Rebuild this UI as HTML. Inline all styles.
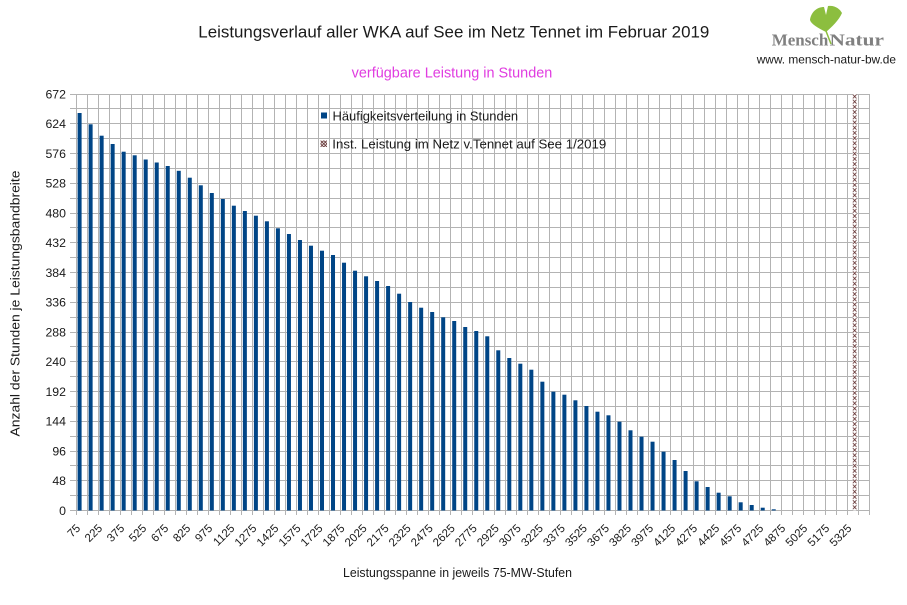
<!DOCTYPE html>
<html><head><meta charset="utf-8"><style>
html,body{margin:0;padding:0;background:#fff;}
svg{display:block;}
text{font-family:"Liberation Sans",sans-serif;}
</style></head><body>
<svg width="907" height="605" viewBox="0 0 907 605" xmlns="http://www.w3.org/2000/svg">
<defs>
<pattern id="hx" x="852.76" y="94" width="3.8" height="5.2" patternUnits="userSpaceOnUse">
<rect width="3.8" height="5.2" fill="#fff"/>
<path d="M0 0.5L3.8 4.5M3.8 0.5L0 4.5" stroke="#5a2626" stroke-width="0.8" fill="none"/>
</pattern>
<pattern id="hx2" x="320.5" y="140.5" width="3.25" height="3.25" patternUnits="userSpaceOnUse">
<rect width="3.25" height="3.25" fill="#fff"/>
<path d="M0 0L3.25 3.25M3.25 0L0 3.25" stroke="#5a2626" stroke-width="0.8" fill="none"/>
</pattern>
</defs>
<rect width="907" height="605" fill="#fff"/>

<!-- title -->
<text x="198.3" y="37.7" font-size="16.8" fill="#1a1a1a" textLength="511" lengthAdjust="spacingAndGlyphs">Leistungsverlauf aller WKA auf See im Netz Tennet im Februar 2019</text>
<text x="351.7" y="77.3" font-size="14.4" fill="#e03ce0" textLength="200.6" lengthAdjust="spacingAndGlyphs">verfügbare Leistung in Stunden</text>

<!-- logo -->
<path d="M826 32 C818 28 811 24 810 20 C811 12 817 7 824 7 L826 15 L828 6 C835 5 840 9 842 13 C839 20 832 27 826 32 Z" fill="#8cbe3f"/>
<path d="M826 31 L831 44" stroke="#8cbe3f" stroke-width="1.5" fill="none"/>
<text x="771.7" y="45.5" font-weight="bold" font-size="17" fill="#808080" textLength="56.6" lengthAdjust="spacingAndGlyphs" style="font-family:'Liberation Serif',serif">Mensch</text>
<text x="829.5" y="45.5" font-weight="bold" font-size="17" fill="#808080" textLength="54.5" lengthAdjust="spacingAndGlyphs" style="font-family:'Liberation Serif',serif">Natur</text>
<text x="756.7" y="63.3" font-size="12" fill="#1a1a1a" textLength="139.3" lengthAdjust="spacingAndGlyphs">www. mensch-natur-bw.de</text>

<!-- grid -->
<path fill="none" stroke="#b3b3b3" stroke-width="1" d="
M76.5 94V515 M87.5 94V515 M98.5 94V515 M109.5 94V515 M120.5 94V515 M131.5 94V515 M142.5 94V515 M153.5 94V515 M164.5 94V515 M175.5 94V515
M186.5 94V515 M197.5 94V515 M208.5 94V515 M219.5 94V515 M230.5 94V515 M241.5 94V515 M252.5 94V515 M263.5 94V515 M274.5 94V515 M285.5 94V515
M296.5 94V515 M307.5 94V515 M318.5 94V515 M329.5 94V515 M340.5 94V515 M351.5 94V515 M362.5 94V515 M373.5 94V515 M384.5 94V515 M395.5 94V515
M406.5 94V515 M417.5 94V515 M428.5 94V515 M439.5 94V515 M450.5 94V515 M461.5 94V515 M472.5 94V515 M483.5 94V515 M494.5 94V515 M505.5 94V515
M516.5 94V515 M527.5 94V515 M538.5 94V515 M549.5 94V515 M560.5 94V515 M571.5 94V515 M582.5 94V515 M593.5 94V515 M604.5 94V515 M615.5 94V515
M626.5 94V515 M637.5 94V515 M648.5 94V515 M659.5 94V515 M670.5 94V515 M681.5 94V515 M693.5 94V515 M704.5 94V515 M715.5 94V515 M726.5 94V515
M737.5 94V515 M748.5 94V515 M759.5 94V515 M770.5 94V515 M781.5 94V515 M792.5 94V515 M803.5 94V515 M814.5 94V515 M825.5 94V515 M836.5 94V515
M847.5 94V515 M858.5 94V515 M869.5 94V515
M70 510.5H869.5 M70 495.5H869.5 M70 480.5H869.5 M70 465.5H869.5 M70 451.5H869.5 M70 436.5H869.5 M70 421.5H869.5 M70 406.5H869.5
M70 391.5H869.5 M70 376.5H869.5 M70 361.5H869.5 M70 346.5H869.5 M70 332.5H869.5 M70 317.5H869.5 M70 302.5H869.5 M70 287.5H869.5
M70 272.5H869.5 M70 257.5H869.5 M70 242.5H869.5 M70 227.5H869.5 M70 213.5H869.5 M70 198.5H869.5 M70 183.5H869.5 M70 168.5H869.5
M70 153.5H869.5 M70 138.5H869.5 M70 123.5H869.5 M70 108.5H869.5 M70 94.5H869.5"/>

<!-- bars -->
<g fill="#004586">
<rect x="77.6" y="113" width="4" height="397.5"/>
<rect x="88.62" y="124.3" width="4" height="386.2"/>
<rect x="99.64" y="135.7" width="4" height="374.8"/>
<rect x="110.65" y="144" width="4" height="366.5"/>
<rect x="121.67" y="151.7" width="4" height="358.8"/>
<rect x="132.69" y="155.3" width="4" height="355.2"/>
<rect x="143.71" y="159.5" width="4" height="351"/>
<rect x="154.73" y="162.5" width="4" height="348"/>
<rect x="165.74" y="166" width="4" height="344.5"/>
<rect x="176.76" y="170.8" width="4" height="339.7"/>
<rect x="187.78" y="177.7" width="4" height="332.8"/>
<rect x="198.8" y="185.3" width="4" height="325.2"/>
<rect x="209.82" y="193" width="4" height="317.5"/>
<rect x="220.83" y="199" width="4" height="311.5"/>
<rect x="231.85" y="205.7" width="4" height="304.8"/>
<rect x="242.87" y="211" width="4" height="299.5"/>
<rect x="253.89" y="215.7" width="4" height="294.8"/>
<rect x="264.91" y="221.3" width="4" height="289.2"/>
<rect x="275.92" y="228.3" width="4" height="282.2"/>
<rect x="286.94" y="234" width="4" height="276.5"/>
<rect x="297.96" y="240" width="4" height="270.5"/>
<rect x="308.98" y="245.7" width="4" height="264.8"/>
<rect x="320.0" y="250.7" width="4" height="259.8"/>
<rect x="331.01" y="255" width="4" height="255.5"/>
<rect x="342.03" y="262.7" width="4" height="247.8"/>
<rect x="353.05" y="270.7" width="4" height="239.8"/>
<rect x="364.07" y="276.3" width="4" height="234.2"/>
<rect x="375.09" y="281" width="4" height="229.5"/>
<rect x="386.1" y="286" width="4" height="224.5"/>
<rect x="397.12" y="293.7" width="4" height="216.8"/>
<rect x="408.14" y="302" width="4" height="208.5"/>
<rect x="419.16" y="307.7" width="4" height="202.8"/>
<rect x="430.18" y="312" width="4" height="198.5"/>
<rect x="441.19" y="317.3" width="4" height="193.2"/>
<rect x="452.21" y="321" width="4" height="189.5"/>
<rect x="463.23" y="327" width="4" height="183.5"/>
<rect x="474.25" y="331" width="4" height="179.5"/>
<rect x="485.27" y="336.3" width="4" height="174.2"/>
<rect x="496.28" y="350.3" width="4" height="160.2"/>
<rect x="507.3" y="358" width="4" height="152.5"/>
<rect x="518.32" y="363.7" width="4" height="146.8"/>
<rect x="529.34" y="369.7" width="4" height="140.8"/>
<rect x="540.36" y="381.7" width="4" height="128.8"/>
<rect x="551.37" y="391.7" width="4" height="118.8"/>
<rect x="562.39" y="394.7" width="4" height="115.8"/>
<rect x="573.41" y="400.3" width="4" height="110.2"/>
<rect x="584.43" y="406" width="4" height="104.5"/>
<rect x="595.45" y="411.7" width="4" height="98.8"/>
<rect x="606.46" y="415.3" width="4" height="95.2"/>
<rect x="617.48" y="421.7" width="4" height="88.8"/>
<rect x="628.5" y="430.3" width="4" height="80.2"/>
<rect x="639.52" y="436.7" width="4" height="73.8"/>
<rect x="650.54" y="441.7" width="4" height="68.8"/>
<rect x="661.55" y="451.7" width="4" height="58.8"/>
<rect x="672.57" y="460" width="4" height="50.5"/>
<rect x="683.59" y="471" width="4" height="39.5"/>
<rect x="694.61" y="481.3" width="4" height="29.2"/>
<rect x="705.63" y="487" width="4" height="23.5"/>
<rect x="716.64" y="492.7" width="4" height="17.8"/>
<rect x="727.66" y="496.3" width="4" height="14.2"/>
<rect x="738.68" y="502.3" width="4" height="8.2"/>
<rect x="749.7" y="505" width="4" height="5.5"/>
<rect x="760.72" y="507.7" width="4" height="2.8"/>
<rect x="771.73" y="509.3" width="4" height="1.2"/>
</g>
<rect x="852.76" y="94" width="3.8" height="416.5" fill="url(#hx)"/>

<!-- legend -->
<rect x="321" y="112.5" width="6" height="6" fill="#004586"/>
<text x="332.5" y="120.3" font-size="13" fill="#1a1a1a" textLength="185.6" lengthAdjust="spacingAndGlyphs">Häufigkeitsverteilung in Stunden</text>
<rect x="320.5" y="140.5" width="6.5" height="6.5" fill="url(#hx2)"/>
<text x="332.3" y="148.5" font-size="13" fill="#1a1a1a" textLength="274" lengthAdjust="spacingAndGlyphs">Inst. Leistung im Netz v.Tennet auf See 1/2019</text>

<!-- y tick labels -->
<g font-size="12.3" fill="#1a1a1a" text-anchor="end">
<text x="66" y="514.8">0</text>
<text x="66" y="485.1">48</text>
<text x="66" y="455.3">96</text>
<text x="66" y="425.6">144</text>
<text x="66" y="395.8">192</text>
<text x="66" y="366.1">240</text>
<text x="66" y="336.3">288</text>
<text x="66" y="306.6">336</text>
<text x="66" y="276.8">384</text>
<text x="66" y="247.1">432</text>
<text x="66" y="217.3">480</text>
<text x="66" y="187.6">528</text>
<text x="66" y="157.8">576</text>
<text x="66" y="128.1">624</text>
<text x="66" y="98.3">672</text>
</g>

<!-- x tick labels -->
<g font-size="11.5" fill="#1a1a1a" text-anchor="end">
<text transform="translate(81,529) rotate(-45)">75</text>
<text transform="translate(103,529) rotate(-45)">225</text>
<text transform="translate(125.1,529) rotate(-45)">375</text>
<text transform="translate(147.1,529) rotate(-45)">525</text>
<text transform="translate(169.2,529) rotate(-45)">675</text>
<text transform="translate(191.2,529) rotate(-45)">825</text>
<text transform="translate(213.2,529) rotate(-45)">975</text>
<text transform="translate(235.3,529) rotate(-45)">1125</text>
<text transform="translate(257.3,529) rotate(-45)">1275</text>
<text transform="translate(279.3,529) rotate(-45)">1425</text>
<text transform="translate(301.4,529) rotate(-45)">1575</text>
<text transform="translate(323.4,529) rotate(-45)">1725</text>
<text transform="translate(345.4,529) rotate(-45)">1875</text>
<text transform="translate(367.5,529) rotate(-45)">2025</text>
<text transform="translate(389.5,529) rotate(-45)">2175</text>
<text transform="translate(411.5,529) rotate(-45)">2325</text>
<text transform="translate(433.6,529) rotate(-45)">2475</text>
<text transform="translate(455.6,529) rotate(-45)">2625</text>
<text transform="translate(477.7,529) rotate(-45)">2775</text>
<text transform="translate(499.7,529) rotate(-45)">2925</text>
<text transform="translate(521.7,529) rotate(-45)">3075</text>
<text transform="translate(543.8,529) rotate(-45)">3225</text>
<text transform="translate(565.8,529) rotate(-45)">3375</text>
<text transform="translate(587.8,529) rotate(-45)">3525</text>
<text transform="translate(609.9,529) rotate(-45)">3675</text>
<text transform="translate(631.9,529) rotate(-45)">3825</text>
<text transform="translate(654,529) rotate(-45)">3975</text>
<text transform="translate(676,529) rotate(-45)">4125</text>
<text transform="translate(698,529) rotate(-45)">4275</text>
<text transform="translate(720.1,529) rotate(-45)">4425</text>
<text transform="translate(742.1,529) rotate(-45)">4575</text>
<text transform="translate(764.1,529) rotate(-45)">4725</text>
<text transform="translate(786.2,529) rotate(-45)">4875</text>
<text transform="translate(808.2,529) rotate(-45)">5025</text>
<text transform="translate(830.2,529) rotate(-45)">5175</text>
<text transform="translate(852.3,529) rotate(-45)">5325</text>
</g>

<!-- axis titles -->
<text transform="translate(19.5,303.5) rotate(-90)" text-anchor="middle" font-size="13" fill="#1a1a1a" textLength="266" lengthAdjust="spacingAndGlyphs">Anzahl der Stunden je Leistungsbandbreite</text>
<text x="343" y="577" font-size="12.5" fill="#1a1a1a" textLength="229" lengthAdjust="spacingAndGlyphs">Leistungsspanne in jeweils 75-MW-Stufen</text>
</svg>
</body></html>
